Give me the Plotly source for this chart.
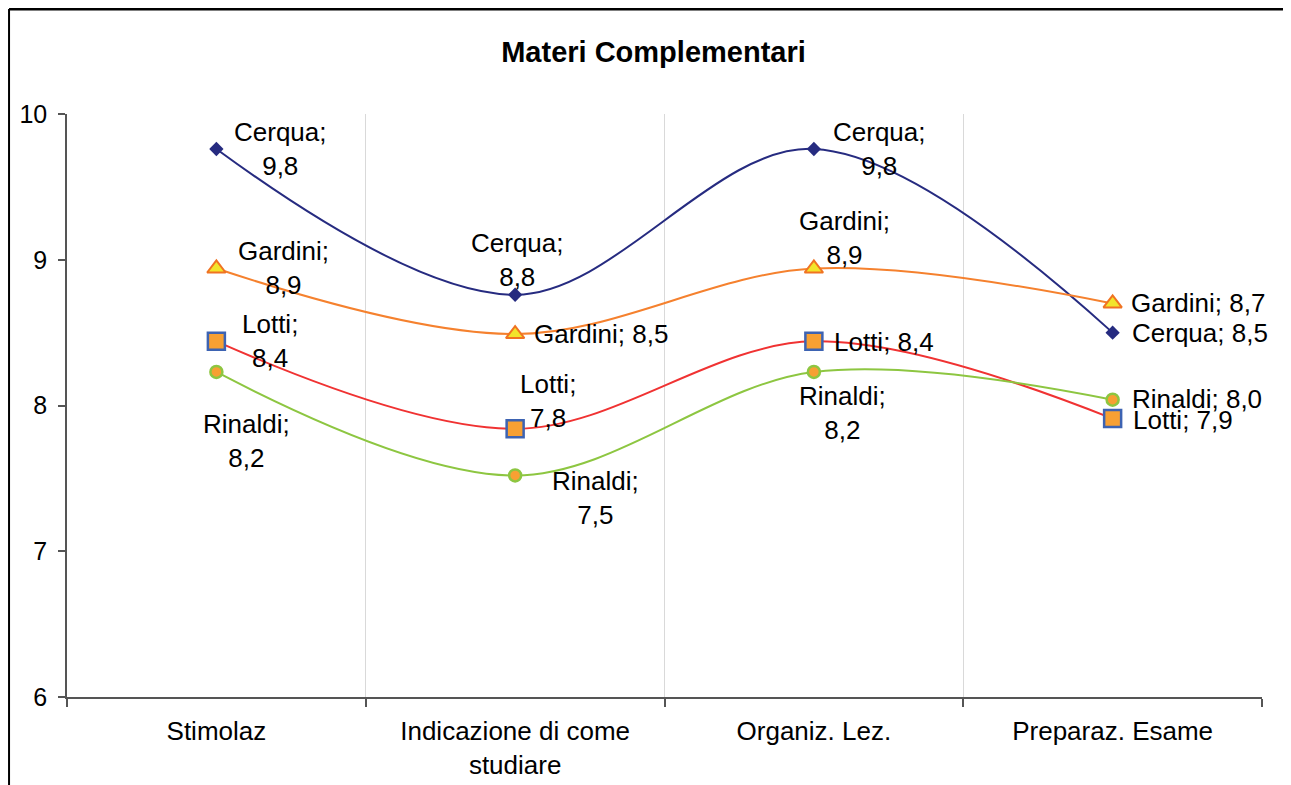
import plotly.graph_objects as go

categories = ["Stimolaz", "Indicazione di come<br>studiare", "Organiz. Lez.", "Preparaz. Esame"]
series_names = ["Cerqua", "Gardini", "Lotti", "Rinaldi"]
cerqua = [9.76, 8.76, 9.76, 8.50]
gardini = [8.94, 8.49, 8.94, 8.70]
lotti = [8.44, 7.84, 8.44, 7.91]
rinaldi = [8.23, 7.52, 8.23, 8.04]
y_ticks = [6, 7, 8, 9, 10]

values = [cerqua, gardini, lotti, rinaldi]

styles = [
    dict(line="#262B80", symbol="diamond", size=11, fill="#262B80", border="#262B80", bw=0),
    dict(line="#F5812E", symbol="triangle-up", size=16, fill="#F2E52B", border="#F07322", bw=2),
    dict(line="#F03232", symbol="square", size=17, fill="#F7A033", border="#3D63B2", bw=2.5),
    dict(line="#8DC641", symbol="circle", size=12, fill="#F7A033", border="#8DC641", bw=2.5),
]

# label placement per series/point: (xanchor, xshift, yshift, wrapped)
label_pos = [
    [("center", 64, 0, True), ("center", 2, 35, True), ("center", 66, 0, True), ("left", 17, 0, False)],
    [("center", 67, 1, True), ("left", 17, 0, False), ("center", 31, 31, True), ("left", 16, 0, False)],
    [("center", 54, 0, True), ("center", 33, 28, True), ("left", 18, -1, False), ("left", 18, -1, False)],
    [("center", 30, -69, True), ("center", 80, -23, True), ("center", 29, -41, True), ("left", 17, 1, False)],
]

FONT = "Liberation Sans, Arial, sans-serif"

fig = go.Figure()
annotations = []
for name, vals, st, lp in zip(series_names, values, styles, label_pos):
    fig.add_trace(go.Scatter(
        x=categories, y=vals, mode="lines+markers", name=name,
        line=dict(color=st["line"], width=2, shape="spline", smoothing=1.0),
        marker=dict(symbol=st["symbol"], size=st["size"], color=st["fill"],
                    line=dict(color=st["border"], width=st["bw"])),
        showlegend=False,
    ))
    for cat, v, (xa, xs, ys, wrap) in zip(categories, vals, lp):
        val_txt = f"{v:.1f}".replace(".", ",")
        txt = f"{name};<br>{val_txt}" if wrap else f"{name}; {val_txt}"
        annotations.append(dict(
            x=cat, y=v, xref="x", yref="y", text=txt, showarrow=False,
            xanchor=xa, yanchor="middle", xshift=xs, yshift=ys, align="center",
            font=dict(family=FONT, size=26, color="#000000"),
        ))

fig.update_layout(
    width=1291, height=785,
    margin=dict(l=59, r=37, t=106, b=96),
    paper_bgcolor="white", plot_bgcolor="white",
    title=dict(text="<b>Materi Complementari</b>", x=0.5, xanchor="center",
               y=1 - 44 / 785, yanchor="middle", yref="container",
               font=dict(family=FONT, size=29, color="#000000")),
    font=dict(family=FONT, color="#000000"),
    annotations=annotations,
    xaxis=dict(
        type="category", tickson="boundaries", range=[-0.5, 3.5],
        showline=True, linecolor="#555555", linewidth=1.5,
        ticks="outside", ticklen=8, tickcolor="#555555", tickwidth=1.5,
        showgrid=True, gridcolor="#D9D9D9", gridwidth=1.2,
        tickfont=dict(size=26, color="#000000"), ticklabelstandoff=10,
        zeroline=False,
    ),
    yaxis=dict(
        range=[6, 10], tickvals=y_ticks, showline=True, linecolor="#555555", linewidth=1.5,
        ticks="outside", ticklen=7, tickcolor="#555555", tickwidth=1.5,
        showgrid=False, zeroline=False, tickfont=dict(size=25, color="#000000"),
        ticklabelstandoff=6,
    ),
    shapes=[
        dict(type="line", xref="paper", yref="paper", x0=-0.0485, x1=1.1, y0=1.1801, y1=1.1801,
             line=dict(color="#000000", width=3)),
        dict(type="line", xref="paper", yref="paper", x0=-0.0485, x1=-0.0485, y0=1.1801, y1=-0.3,
             line=dict(color="#000000", width=2)),
    ],
)

fig.write_html("out.html")
